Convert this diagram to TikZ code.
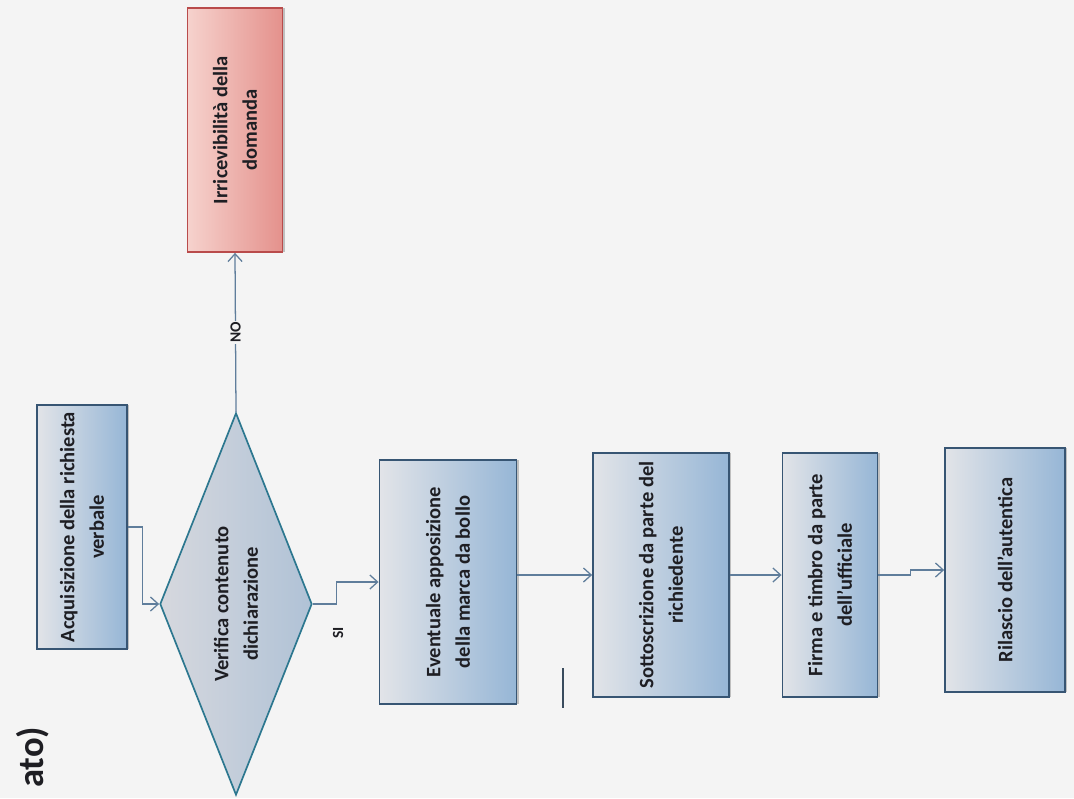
\documentclass[tikz,border=0pt]{standalone}
\usepackage{fontspec}
\setmainfont{Carlito}
\usetikzlibrary{shapes.geometric, arrows.meta, shadows}
\definecolor{sfondo}{RGB}{244,244,244}
\definecolor{boxchiaro}{RGB}{226,228,232}
\definecolor{boxblu}{RGB}{150,182,214}
\definecolor{bordoblu}{RGB}{55,85,115}
\definecolor{rombochiaro}{RGB}{214,216,222}
\definecolor{romboblu}{RGB}{176,194,214}
\definecolor{rosachiaro}{RGB}{246,210,205}
\definecolor{rosso}{RGB}{228,145,140}
\definecolor{bordorosso}{RGB}{185,75,75}
\definecolor{linea}{RGB}{95,125,155}
\definecolor{testo}{RGB}{30,30,35}
\tikzstyle{process} = [rectangle, rotate=90, minimum width=6.1cm, minimum height=2.3cm, inner sep=2pt, align=center, draw=bordoblu, line width=1.2pt, left color=boxchiaro, right color=boxblu, drop shadow={shadow xshift=1.5pt, shadow yshift=0pt, opacity=0.45}, text=testo, font=\bfseries\fontsize{14.6}{21}\selectfont]
\tikzstyle{reject} = [process, draw=bordorosso, left color=rosachiaro, right color=rosso]
\tikzstyle{decision} = [diamond, rotate=90, aspect=2.5, minimum width=9.55cm, minimum height=3.8cm, inner sep=0pt, align=center, draw=bordoblu!80!cyan, line width=1.2pt, left color=rombochiaro, right color=romboblu, text=testo, font=\bfseries\fontsize{14.6}{21}\selectfont]
\tikzstyle{lbl} = [rotate=90, fill=sfondo, inner sep=1pt, text=testo, font=\bfseries\fontsize{11}{11}\selectfont]
\tikzstyle{arrow} = [line width=0.9pt, draw=linea, -{Straight Barb[length=5.5pt,width=10pt]}]

\begin{document}
\begin{tikzpicture}[x=0.025cm, y=0.025cm]
                \fill[sfondo] (0,0) rectangle (1074,-798);
                \useasboundingbox (0,0) rectangle (1074,-798);
                \node (titolo) [rotate=90, anchor=east, inner sep=0pt, text=testo, font=\bfseries\fontsize{26}{26}\selectfont] at (33,-727) {ato)};
                \node (acq) [process, minimum height=2.25cm] at (82,-527) {Acquisizione della richiesta\\verbale};
                \node (dec) [decision] at (236,-604) {Verifica contenuto\\dichiarazione};
                \node (irr) [reject, minimum height=2.38cm] at (235,-130) {Irricevibilità della\\domanda};
                \node (evt) [process, minimum height=3.43cm] at (448,-582) {Eventuale apposizione\\della marca da bollo};
                \node (sot) [process, minimum height=3.4cm] at (661,-575) {Sottoscrizione da parte del\\richiedente};
                \node (fir) [process, minimum height=2.38cm] at (830,-575) {Firma e timbro da parte\\dell'ufficiale};
                \node (ril) [process, minimum height=3cm] at (1005,-570) {Rilascio dell'autentica};
                \node (si) [lbl] at (338,-633) {SI};

                \draw [arrow] (acq.south) -- ++(15,0) |- (dec.north);
                \draw [arrow] (dec.east) -- node[lbl] {NO} (irr.west);
                \draw [arrow] (dec.south) -- ++(24,0) |- (evt.north);
                \draw [arrow] (evt.south |- sot.north) -- (sot.north);
                \draw [arrow] (sot.south) -- (fir.north);
                \draw [arrow] (fir.south) -- ++(32,0) |- (ril.north);
                \draw [line width=0.8pt, draw=linea!60!black] (563,-668) -- (563,-708);
            \end{tikzpicture}
\end{document}
